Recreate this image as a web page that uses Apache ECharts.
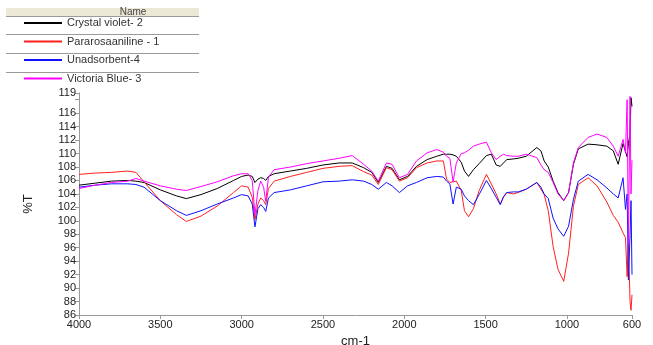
<!DOCTYPE html>
<html>
<head>
<meta charset="utf-8">
<script src="https://cdn.jsdelivr.net/npm/echarts@6/dist/echarts.min.js"></script>
<style>
  html, body { margin: 0; padding: 0; background: #fff; }
  #chart { width: 653px; height: 345px; }
</style>
</head>
<body>
<div id="chart"></div>
<script>
// wavenumber grid (cm-1)
const wavenumbers = [4000, 3900, 3800, 3700, 3650, 3600, 3500, 3400, 3340, 3250, 3150, 3050, 3000, 2960, 2935, 2918, 2900, 2883, 2865, 2852, 2835, 2800, 2700, 2600, 2500, 2400, 2320, 2250, 2200, 2160, 2110, 2075, 2030, 1980, 1925, 1860, 1800, 1760, 1740, 1720, 1700, 1680, 1650, 1630, 1605, 1575, 1540, 1495, 1465, 1435, 1410, 1390, 1370, 1330, 1300, 1250, 1185, 1160, 1140, 1115, 1085, 1055, 1020, 990, 960, 930, 870, 815, 755, 715, 685, 655, 640, 630, 622, 612, 606, 600];

const crystalViolet = [105.3, 105.6, 105.9, 106.0, 105.9, 105.7, 104.6, 103.7, 103.3, 103.9, 104.8, 106.0, 106.6, 106.8, 106.6, 105.7, 106.2, 106.4, 106.3, 106.0, 106.6, 107.0, 107.4, 107.8, 108.3, 108.6, 108.6, 107.9, 107.2, 105.7, 108.1, 107.8, 106.1, 106.6, 108.1, 109.1, 109.6, 109.9, 109.9, 109.9, 109.8, 109.6, 108.7, 107.4, 106.6, 107.6, 108.5, 109.7, 109.9, 108.3, 108.1, 108.6, 109.1, 109.2, 109.3, 109.6, 110.9, 110.4, 108.9, 108.0, 105.9, 104.2, 103.0, 104.2, 108.4, 110.7, 111.4, 111.3, 111.1, 110.4, 108.4, 111.5, 110.3, 109.5, 111.5, 113.0, 118.3, 117.0];

const pararosaniline = [106.9, 107.1, 107.2, 107.4, 107.2, 105.8, 103.0, 100.9, 99.9, 100.7, 102.2, 104.2, 105.2, 105.0, 103.5, 100.2, 102.5, 103.4, 103.0, 102.4, 104.8, 105.9, 106.6, 107.2, 107.8, 108.1, 108.2, 107.3, 106.8, 105.4, 107.9, 107.6, 105.9, 106.4, 107.9, 108.6, 108.9, 108.9, 106.2, 105.7, 105.8, 105.9, 104.5, 101.5, 100.6, 101.8, 104.5, 106.9, 105.5, 104.0, 102.5, 103.5, 104.2, 104.0, 104.2, 104.7, 105.7, 104.7, 103.9, 101.5, 96.2, 92.8, 91.0, 95.2, 102.2, 105.4, 106.4, 105.2, 102.8, 100.8, 99.8, 98.2, 97.5, 91.7, 96.9, 88.0, 86.7, 89.0];

const unadsorbent = [105.0, 105.3, 105.5, 105.5, 105.4, 105.0, 103.0, 101.5, 100.8, 101.5, 102.5, 103.4, 103.9, 103.7, 102.5, 99.1, 101.8, 102.4, 102.0, 101.4, 103.4, 104.2, 104.6, 105.2, 105.8, 105.9, 106.1, 105.9, 105.4, 104.7, 105.7, 105.2, 104.2, 105.2, 105.7, 106.4, 106.6, 106.5, 105.9, 105.5, 102.5, 105.0, 104.7, 103.7, 103.0, 102.4, 103.9, 106.0, 104.8, 103.5, 102.4, 103.6, 104.2, 104.3, 104.3, 104.7, 105.7, 105.0, 104.0, 103.3, 100.4, 98.8, 97.7, 99.2, 103.2, 105.9, 106.9, 106.1, 104.9, 104.0, 103.4, 106.4, 101.7, 104.0, 91.2, 98.0, 103.0, 92.0];

const victoriaBlue = [104.8, 105.3, 105.7, 105.9, 106.3, 105.9, 105.2, 104.7, 104.5, 105.1, 105.8, 106.7, 107.0, 107.0, 106.0, 100.9, 104.5, 105.9, 105.0, 102.9, 106.5, 107.6, 108.0, 108.5, 108.9, 109.3, 109.7, 108.4, 107.4, 105.9, 108.6, 108.4, 106.4, 106.9, 108.9, 110.1, 110.6, 110.2, 109.6, 109.3, 105.8, 108.6, 110.0, 110.1, 110.5, 111.1, 111.4, 111.7, 110.1, 109.1, 109.6, 109.9, 109.7, 109.6, 109.6, 109.9, 109.4, 108.3, 107.6, 107.2, 105.7, 104.0, 103.0, 104.2, 108.6, 110.9, 112.4, 112.9, 112.4, 111.1, 109.6, 112.1, 110.1, 118.0, 96.5, 118.5, 104.0, 109.0];

const seriesNames = ['Crystal violet- 2', 'Pararosaaniline - 1', 'Unadsorbent-4', 'Victoria Blue- 3'];
const seriesValues = [crystalViolet, pararosaniline, unadsorbent, victoriaBlue];
const seriesColors = ['#000000', '#ff2020', '#1010ff', '#ff00ff'];

const xTicks = [4000, 3500, 3000, 2500, 2000, 1500, 1000, 600];

const chart = echarts.init(document.getElementById('chart'), null, { renderer: 'canvas' });

const fontFamily = 'Liberation Sans, Arial, sans-serif';
const axisText = { color: '#222', fontSize: 11, fontFamily };

chart.setOption({
  animation: false,
  backgroundColor: '#fff',
  grid: { left: 79, right: 21, top: 93, bottom: 30, outerBoundsMode: 'none' },
  legend: {
    orient: 'vertical',
    left: 19,
    top: 12.5,
    itemWidth: 38,
    itemHeight: 2,
    itemGap: 7.5,
    icon: 'rect',
    textStyle: { color: '#333', fontSize: 11, fontFamily },
    data: seriesNames
  },
  graphic: [
    { type: 'rect', shape: { x: 6, y: 8, width: 193, height: 8 }, style: { fill: '#ebe8d6' }, z: 10 },
    { type: 'text', x: 133, y: 12, style: { text: 'Name', fill: '#444', fontSize: 10, fontFamily, align: 'center', verticalAlign: 'middle' }, z: 11 },
    { type: 'line', shape: { x1: 6, y1: 16.5, x2: 199, y2: 16.5 }, style: { stroke: '#9a9a9a', lineWidth: 1 }, z: 11 },
    { type: 'line', shape: { x1: 6, y1: 34.5, x2: 199, y2: 34.5 }, style: { stroke: '#9a9a9a', lineWidth: 1 }, z: 11 },
    { type: 'line', shape: { x1: 6, y1: 53.5, x2: 199, y2: 53.5 }, style: { stroke: '#9a9a9a', lineWidth: 1 }, z: 11 },
    { type: 'line', shape: { x1: 6, y1: 72.5, x2: 199, y2: 72.5 }, style: { stroke: '#9a9a9a', lineWidth: 1 }, z: 11 }
  ],
  xAxis: {
    type: 'value',
    min: 600,
    max: 4000,
    inverse: true,
    name: 'cm-1',
    nameLocation: 'middle',
    nameGap: 20,
    nameTextStyle: { color: '#222', fontSize: 13, fontFamily },
    splitLine: { show: false },
    axisLine: { lineStyle: { color: '#999' } },
    axisTick: { length: 4, lineStyle: { color: '#999' }, customValues: xTicks },
    axisLabel: { ...axisText, margin: 4, customValues: xTicks, formatter: (v) => String(v) }
  },
  yAxis: {
    type: 'value',
    min: 86,
    max: 119,
    interval: 2,
    name: '%T',
    nameLocation: 'middle',
    nameGap: 44,
    nameRotate: 90,
    nameTextStyle: { color: '#222', fontSize: 13, fontFamily },
    splitLine: { show: false },
    axisLine: { show: true, lineStyle: { color: '#999' } },
    axisTick: { show: true, length: 4, lineStyle: { color: '#999' } },
    axisLabel: { ...axisText, margin: 3, formatter: (v) => (v === 118 ? '' : String(v)) }
  },
  series: seriesNames.map((name, i) => ({
    name,
    type: 'line',
    showSymbol: false,
    symbol: 'none',
    lineStyle: { width: 1, color: seriesColors[i] },
    itemStyle: { color: seriesColors[i] },
    data: wavenumbers.map((w, j) => [w, seriesValues[i][j]])
  }))
});
</script>
</body>
</html>
